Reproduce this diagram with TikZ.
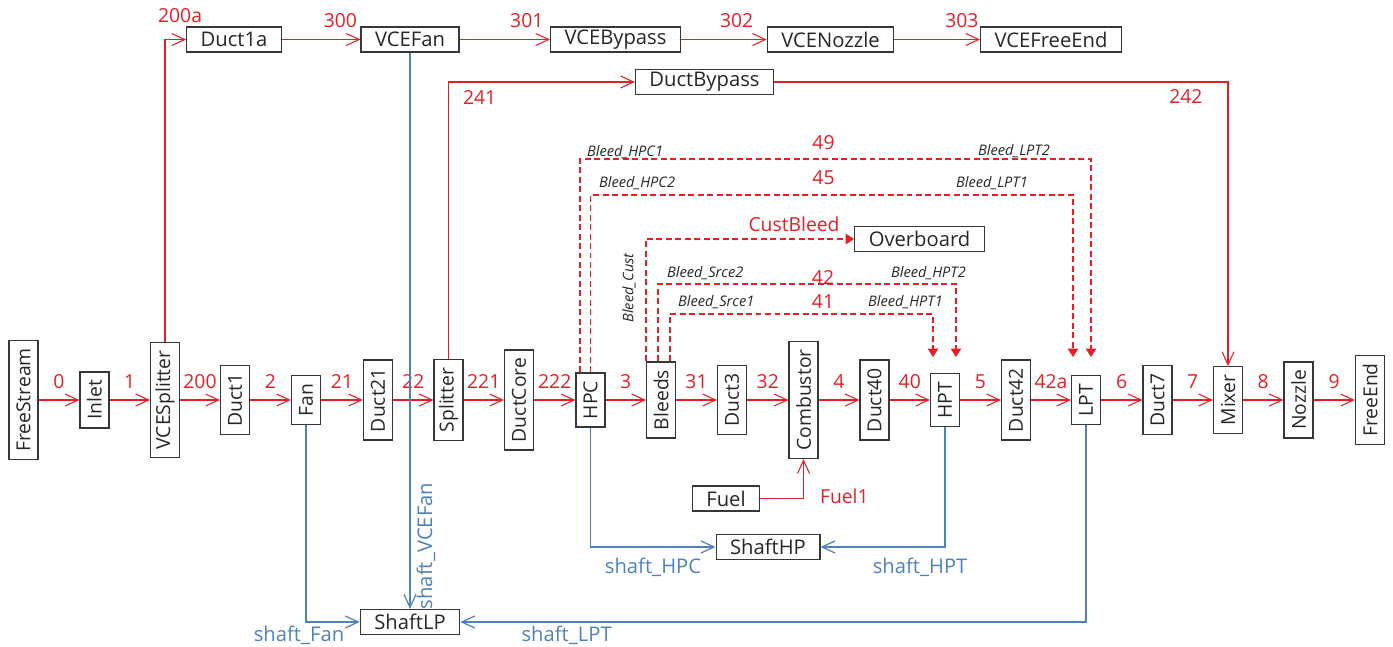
\documentclass[tikz,border=0pt]{standalone}
\usepackage{fontspec}
\setmainfont{Open Sans}
\usetikzlibrary{arrows.meta}

\definecolor{flowred}{RGB}{232,30,38}
\definecolor{shaftblue}{RGB}{79,129,189}
\definecolor{boxgray}{RGB}{55,55,55}

\tikzset{
  hbox/.style={draw=boxgray,line width=0.7pt,text=black!85,minimum height=0.5cm,inner xsep=0.28cm,inner ysep=0pt,font=\fontsize{11.5}{13}\selectfont},
  vbox/.style={draw=boxgray,line width=0.7pt,text=black!85,minimum width=0.58cm,inner xsep=0pt,inner ysep=0.16cm,font=\fontsize{11}{13}\selectfont},
  flow/.style={flowred,line width=0.6pt,-{Straight Barb[length=2.6mm,width=2.4mm]}},
  shaft/.style={shaftblue,line width=0.7pt,-{Straight Barb[length=2.6mm,width=2.4mm]}},
  bleed/.style={flowred,line width=0.7pt,dash pattern=on 3.4pt off 2pt,-{Triangle[length=1.7mm,width=2.1mm]}},
  num/.style={text=flowred,font=\fontsize{11}{13}\selectfont},
  slabel/.style={text=shaftblue,font=\fontsize{11.5}{13}\selectfont},
  blabel/.style={text=black!85,font=\itshape\fontsize{8.3}{10}\selectfont},
}

\begin{document}
\begin{tikzpicture}[x=0.02cm,y=-0.02cm]
\useasboundingbox (0,0) rectangle (1393,646);

% main gas path
\node[vbox] (freestream) at (23.5,400) {\rotatebox{90}{FreeStream}};
\node[vbox] (inlet) at (94.5,400) {\rotatebox{90}{Inlet}};
\node[vbox] (vcesplitter) at (165,400) {\rotatebox{90}{VCESplitter}};
\node[vbox] (duct1) at (235,400) {\rotatebox{90}{Duct1}};
\node[vbox] (fan) at (306,400) {\rotatebox{90}{Fan}};
\node[vbox] (duct21) at (378,400) {\rotatebox{90}{Duct21}};
\node[vbox] (splitter) at (448.5,400) {\rotatebox{90}{Splitter}};
\node[vbox] (ductcore) at (519,400) {\rotatebox{90}{DuctCore}};
\node[vbox] (hpc) at (590.5,400) {\rotatebox{90}{HPC}};
\node[vbox] (bleeds) at (661,400) {\rotatebox{90}{Bleeds}};
\node[vbox] (duct3) at (732,400) {\rotatebox{90}{Duct3}};
\node[vbox] (combustor) at (803.5,400) {\rotatebox{90}{Combustor}};
\node[vbox] (duct40) at (874.5,400) {\rotatebox{90}{Duct40}};
\node[vbox] (hpt) at (945,400) {\rotatebox{90}{HPT}};
\node[vbox] (duct42) at (1016,400) {\rotatebox{90}{Duct42}};
\node[vbox] (lpt) at (1086,400) {\rotatebox{90}{LPT}};
\node[vbox] (duct7) at (1157.5,400) {\rotatebox{90}{Duct7}};
\node[vbox] (mixer) at (1228,400) {\rotatebox{90}{Mixer}};
\node[vbox] (nozzle) at (1298.5,400) {\rotatebox{90}{Nozzle}};
\node[vbox] (freeend) at (1370,400) {\rotatebox{90}{FreeEnd}};

% VCE stream and bypass
\node[hbox] (duct1a) at (234,39.5) {Duct1a};
\node[hbox] (vcefan) at (410,39.5) {VCEFan};
\node[hbox] (vcebypass) at (615.5,39.5) {VCEBypass};
\node[hbox] (vcenozzle) at (830.5,39.5) {VCENozzle};
\node[hbox] (vcefreeend) at (1051,39.5) {VCEFreeEnd};
\node[hbox] (ductbypass) at (704.5,82) {DuctBypass};
\node[hbox] (overboard) at (919.5,239) {Overboard};

% fuel and shafts
\node[hbox] (fuel) at (726,498.5) {Fuel};
\node[hbox] (shafthp) at (768,547) {ShaftHP};
\node[hbox] (shaftlp) at (410,622) {ShaftLP};

\draw[flow] (freestream) -- node[num,above=0.1cm]{0} (inlet);
\draw[flow] (inlet) -- node[num,above=0.1cm]{1} (vcesplitter);
\draw[flow] (vcesplitter) -- node[num,above=0.1cm]{200} (duct1);
\draw[flow] (duct1) -- node[num,above=0.1cm]{2} (fan);
\draw[flow] (fan) -- node[num,above=0.1cm]{21} (duct21);
\draw[flow] (duct21) -- node[num,above=0.1cm]{22} (splitter);
\draw[flow] (splitter) -- node[num,above=0.1cm]{221} (ductcore);
\draw[flow] (ductcore) -- node[num,above=0.1cm]{222} (hpc);
\draw[flow] (hpc) -- node[num,above=0.1cm]{3} (bleeds);
\draw[flow] (bleeds) -- node[num,above=0.1cm]{31} (duct3);
\draw[flow] (duct3) -- node[num,above=0.1cm]{32} (combustor);
\draw[flow] (combustor) -- node[num,above=0.1cm]{4} (duct40);
\draw[flow] (duct40) -- node[num,above=0.1cm]{40} (hpt);
\draw[flow] (hpt) -- node[num,above=0.1cm]{5} (duct42);
\draw[flow] (duct42) -- node[num,above=0.1cm]{42a} (lpt);
\draw[flow] (lpt) -- node[num,above=0.1cm]{6} (duct7);
\draw[flow] (duct7) -- node[num,above=0.1cm]{7} (mixer);
\draw[flow] (mixer) -- node[num,above=0.1cm]{8} (nozzle);
\draw[flow] (nozzle) -- node[num,above=0.1cm]{9} (freeend);

\draw[flow] (vcesplitter.north) |- node[pos=1,num,anchor=south,inner sep=0,xshift=-0.12cm,yshift=0.32cm]{200a} (duct1a.west);
\draw[flow] (duct1a) -- node[pos=1,num,anchor=south east,inner sep=0,xshift=-0.06cm,yshift=0.22cm]{300} (vcefan);
\draw[flow] (vcefan) -- node[pos=1,num,anchor=south east,inner sep=0,xshift=-0.12cm,yshift=0.22cm]{301} (vcebypass);
\draw[flow] (vcebypass) -- node[pos=1,num,anchor=south east,inner sep=0,xshift=-0.26cm,yshift=0.22cm]{302} (vcenozzle);
\draw[flow] (vcenozzle) -- node[pos=1,num,anchor=south east,inner sep=0,xshift=-0.02cm,yshift=0.22cm]{303} (vcefreeend);
\draw[flow] (splitter.north) |- node[pos=0.5,num,anchor=north west,inner sep=0,xshift=0.28cm,yshift=-0.16cm]{241} (ductbypass.west);
\draw[flow] (ductbypass.east) -| node[pos=0.5,num,anchor=north east,inner sep=0,xshift=-0.5cm,yshift=-0.14cm]{242} (mixer.north);
\draw[flow] (fuel.east) -| node[pos=0.5,num,anchor=west,inner sep=0,xshift=0.32cm,yshift=0.04cm]{Fuel1} (combustor.south);

% shafts
\draw[shaft] (vcefan.south) -- node[pos=0.887,slabel,rotate=90,anchor=north,inner sep=0.12cm]{shaft\_VCEFan} (shaftlp.north);
\draw[shaft] (fan.south) |- node[pos=0.5,slabel,anchor=north,inner sep=0,xshift=-0.14cm,yshift=-0.07cm]{shaft\_Fan} (shaftlp.west);
\draw[shaft] (lpt.south) |- node[pos=0.915,slabel,anchor=north,inner sep=0,yshift=-0.07cm]{shaft\_LPT} (shaftlp.east);
\draw[shaft] (hpc.south) |- node[pos=0.75,slabel,anchor=north,inner sep=0,yshift=-0.2cm]{shaft\_HPC} (shafthp.west);
\draw[shaft] (hpt.south) |- node[pos=0.6,slabel,anchor=north,inner sep=0,yshift=-0.2cm]{shaft\_HPT} (shafthp.east);

% bleeds
\coordinate (hpt1) at (933,357);
\coordinate (hpt2) at (956,357);
\coordinate (lpt1) at (1073,357);
\coordinate (lpt2) at (1091,357);
\draw[bleed] ([xshift=-0.21cm]hpc.north) |- (1091,159) -- (lpt2);
\draw[bleed] (hpc.north) |- (1073,195) -- (lpt1);
\draw[bleed] ([xshift=-0.06cm]bleeds.north) |- (956,284) -- (hpt2);
\draw[bleed] ([xshift=0.18cm]bleeds.north) |- (933,314) -- (hpt1);
\draw[bleed] (bleeds.north west) |- node[pos=1,num,anchor=south east,inner sep=0,xshift=-0.28cm,yshift=0.14cm]{CustBleed} (overboard.west);

\node[blabel,anchor=base west] (lhpc1) at (581,156) {Bleed\_HPC1};
\node[blabel,anchor=base east] (llpt2) at (1056,155) {Bleed\_LPT2};
\node[blabel,anchor=base west] (lhpc2) at (593,187) {Bleed\_HPC2};
\node[blabel,anchor=base east] (llpt1) at (1034,187) {Bleed\_LPT1};
\node[blabel,anchor=base west] (lsrce2) at (661,277) {Bleed\_Srce2};
\node[blabel,anchor=base east] (lhpt2) at (972,277) {Bleed\_HPT2};
\node[blabel,anchor=base west] (lsrce1) at (672,306) {Bleed\_Srce1};
\node[blabel,anchor=base east] (lhpt1) at (949,306) {Bleed\_HPT1};
\node[blabel,rotate=90] (lcust) at (629,288) {Bleed\_Cust};
\node[num] (n49) at (823.5,143) {49};
\node[num] (n45) at (823.5,178) {45};
\node[num] (n42) at (823,277) {42};
\node[num] (n41) at (823,302) {41};
\end{tikzpicture}
\end{document}
